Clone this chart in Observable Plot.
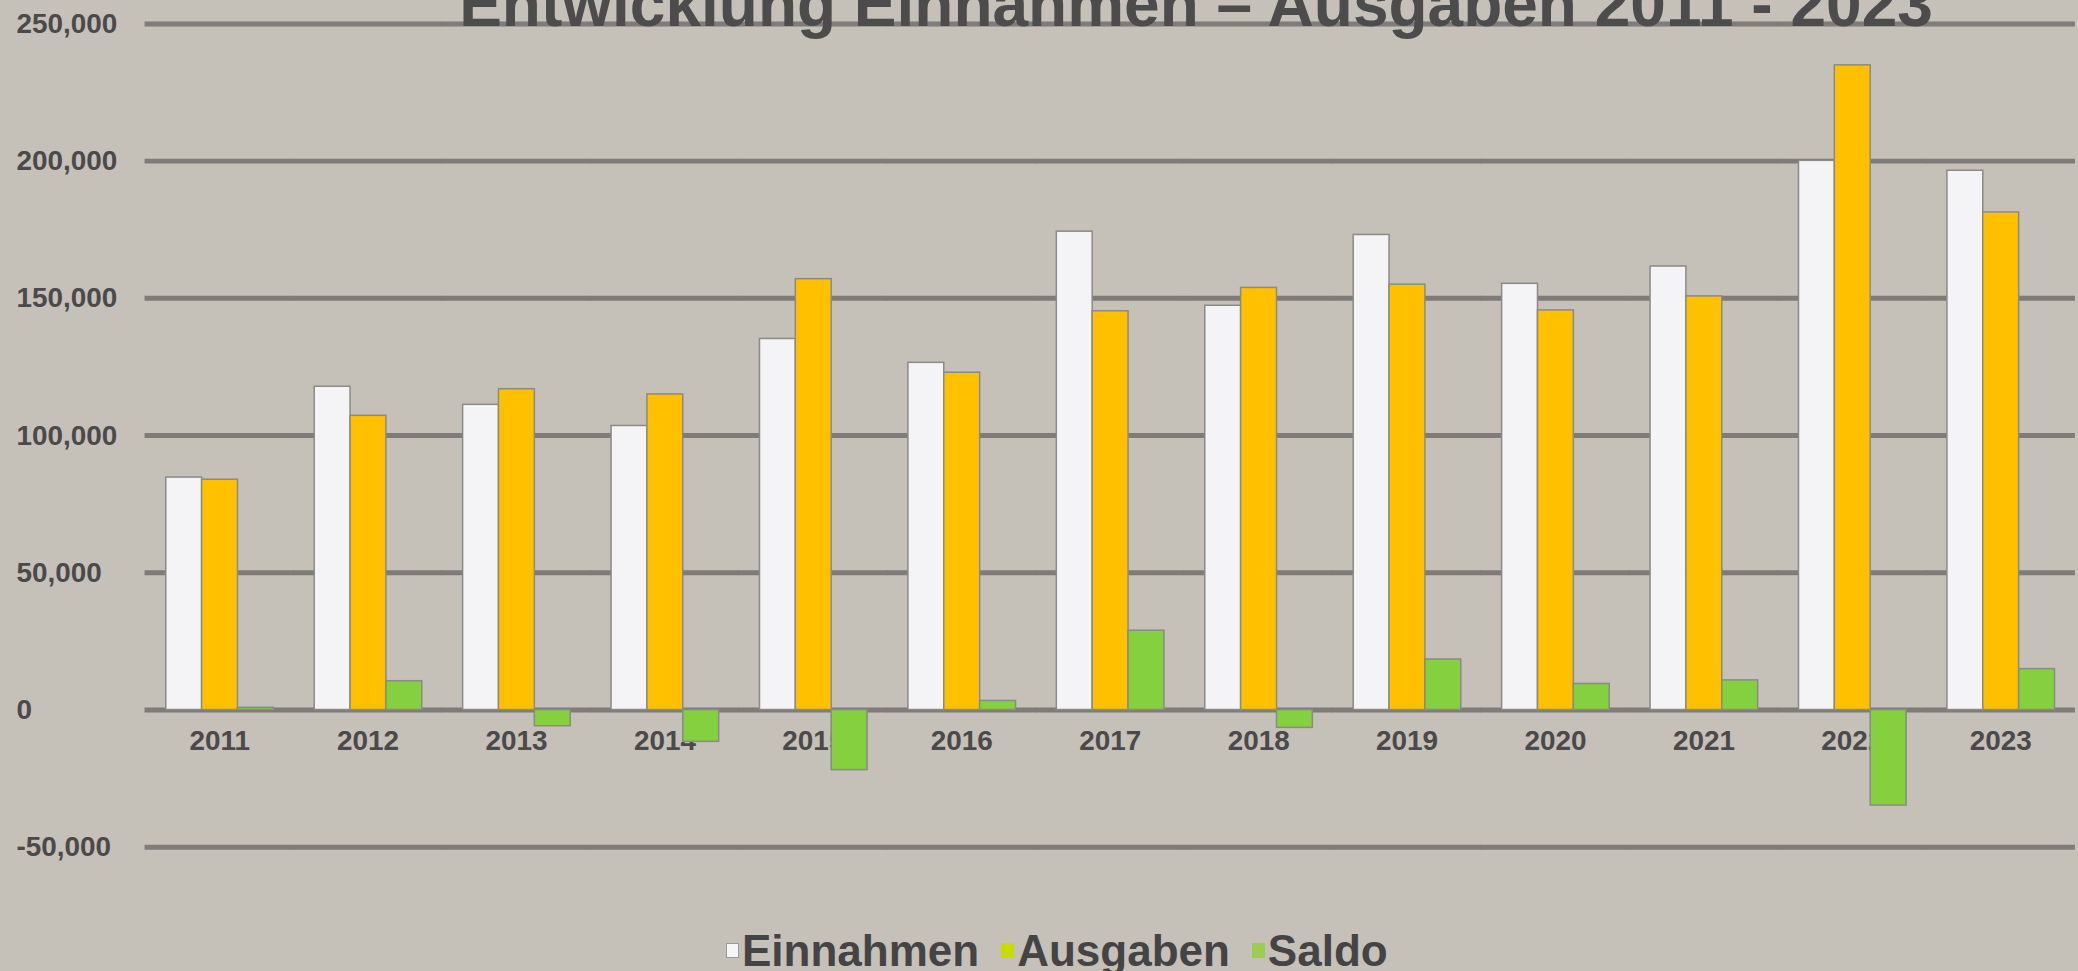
<!DOCTYPE html>
<html>
<head>
<meta charset="utf-8">
<script src="https://cdn.jsdelivr.net/npm/d3@7"></script>
<script src="https://cdn.jsdelivr.net/npm/@observablehq/plot@0.6"></script>
<style>
  html, body { margin: 0; padding: 0; width: 2078px; height: 971px; overflow: hidden; }
  body { background: #c5c0b8; font-family: "Liberation Sans", Arial, sans-serif; position: relative; }
  #chart { position: absolute; left: 0; top: 0; }
  #title { position: absolute; top: -28px; left: 1196px; transform: translateX(-50%); white-space: nowrap;
           font-size: 64px; line-height: 64px; font-weight: bold; color: #4c4c4c; }
  #legend { position: absolute; top: 929px; left: 726px; display: flex;
            align-items: baseline; white-space: nowrap; font-size: 44px; line-height: 44px; font-weight: bold; color: #444; }
  .item { display: flex; align-items: baseline; margin-right: 22px; }
  .sw { display: inline-block; position: relative; top: -8px; width: 13px; height: 15px; margin-right: 3px; margin-bottom: 10px; box-sizing: border-box; }
</style>
</head>
<body>
<div id="chart"></div>
<div id="title"></div>
<div id="legend"></div>
<script>
const titleText = "Entwicklung Einnahmen – Ausgaben 2011 - 2023";
const years = ["2011","2012","2013","2014","2015","2016","2017","2018","2019","2020","2021","2022","2023"];
const einnahmen = [84700, 117800, 111200, 103500, 135200, 126500, 174300, 147300, 173100, 155300, 161600, 200100, 196500];
const ausgaben  = [83900, 107200, 116900, 115000, 157000, 122900, 145300, 153800, 155000, 145600, 150700, 234900, 181300];
const saldo     = [800, 10500, -5900, -11600, -21900, 3300, 28900, -6500, 18400, 9500, 10800, -34800, 14900];
const seriesNames = ["Einnahmen", "Ausgaben", "Saldo"];
const seriesColors = ["#f4f3f5", "#ffc000", "#84d03f"];
const legendSwatches = ["#f6f6f6", "#c8dc00", "#9ccc52"];
const yTicks = [-50000, 0, 50000, 100000, 150000, 200000, 250000];

const rows = years.flatMap((yr, i) => [
  {year: yr, series: "Einnahmen", value: einnahmen[i]},
  {year: yr, series: "Ausgaben", value: ausgaben[i]},
  {year: yr, series: "Saldo", value: saldo[i]}
]);

const chart = Plot.plot({
  width: 2086,
  height: 880,
  marginLeft: 142.6,
  marginRight: 0,
  marginTop: 23.5,
  marginBottom: 30,
  style: {background: "transparent", overflow: "visible", fontFamily: "'Liberation Sans', Arial, sans-serif"},
  fx: {domain: years, paddingInner: 0.264, paddingOuter: 0.13, axis: null, label: null},
  x: {domain: seriesNames, padding: 0, axis: null},
  y: {domain: [-50000, 250000], axis: null},
  color: {domain: seriesNames, range: seriesColors},
  marks: [
    Plot.ruleY(yTicks, {y: d => d, stroke: "#7e7b78", strokeWidth: 5, insetLeft: -19.9, insetRight: -19.9}),
    Plot.text(yTicks, {fx: () => years[0], y: d => d, text: d => d.toLocaleString("en-US"), frameAnchor: "left",
      textAnchor: "start", dx: -149, fontSize: 28, fontWeight: "bold", fill: "#4a4a4a"}),
    Plot.text(years, {fx: d => d, y: 0, text: d => d, dy: 31, fontSize: 28, fontWeight: "bold", fill: "#4a4a4a"}),
    Plot.barY(rows, {fx: "year", x: "series", y: "value", fill: "series", stroke: "#8a8a86", strokeWidth: 1.5})
  ]
});
document.getElementById("chart").appendChild(chart);
document.getElementById("title").textContent = titleText;

const legend = document.getElementById("legend");
seriesNames.forEach((name, i) => {
  const item = document.createElement("span");
  item.className = "item";
  const sw = document.createElement("span");
  sw.className = "sw";
  sw.style.background = legendSwatches[i];
  if (i === 0) sw.style.border = "1px solid #999";
  const label = document.createElement("span");
  label.textContent = name;
  item.appendChild(sw);
  item.appendChild(label);
  legend.appendChild(item);
});
</script>
</body>
</html>
